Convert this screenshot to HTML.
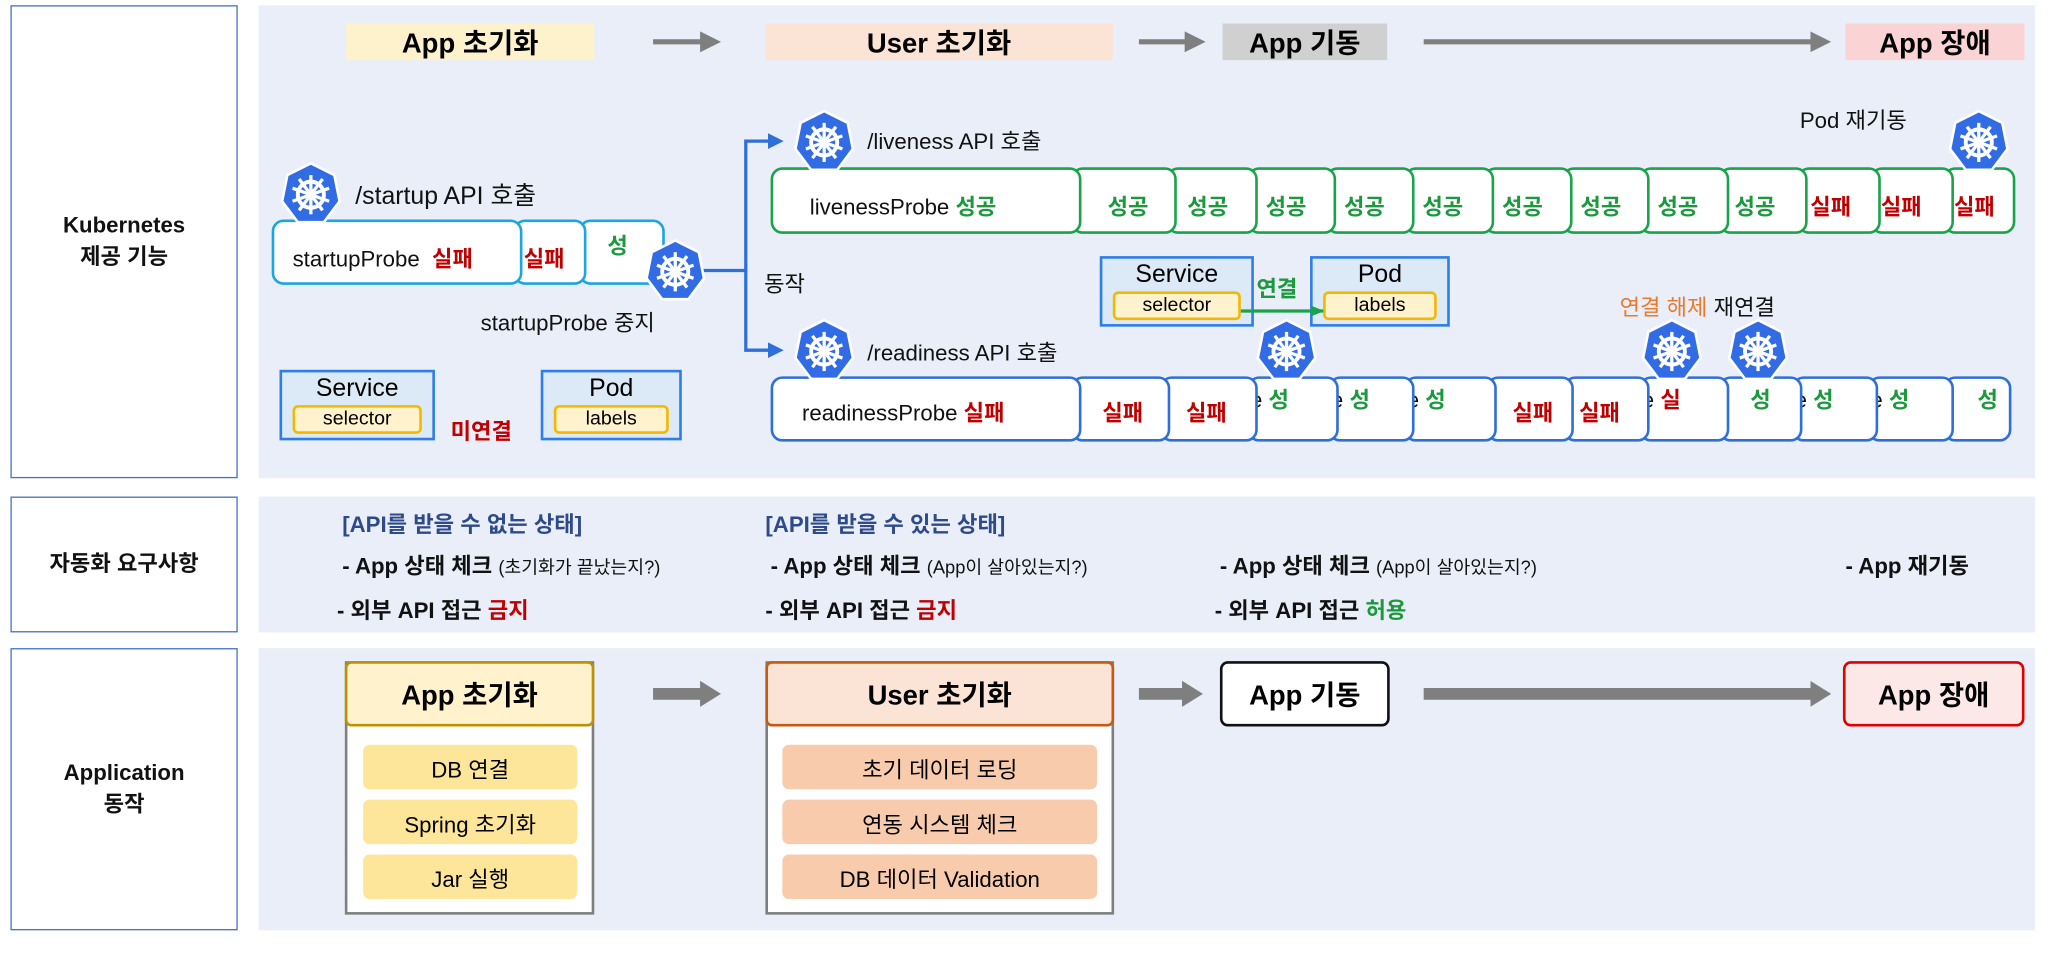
<!DOCTYPE html>
<html><head><meta charset="utf-8"><style>
*{margin:0;padding:0;box-sizing:border-box}
body{width:2048px;height:980px;overflow:hidden;background:#fff;font-family:"Liberation Sans","Noto Sans CJK KR",sans-serif}
#w{position:absolute;left:0;top:0;width:1568px;height:750px;transform:scale(1.30612,1.30667);transform-origin:0 0}
.a{position:absolute}
.lb{position:absolute;background:#fff;border:1.5px solid #4472c4;display:flex;align-items:center;justify-content:center;text-align:center;font-weight:bold;font-size:17px;line-height:24px;color:#111}
.pn{position:absolute;background:#e9eef8;left:198px;width:1360px}
.hd{position:absolute;height:28px;top:18px;font-weight:bold;font-size:21px;display:flex;align-items:center;justify-content:center}
.t{position:absolute;white-space:nowrap;font-size:17px;color:#111}
.seg{position:absolute;background:#fff;border-radius:9px;font-size:17px;font-weight:bold;white-space:nowrap;overflow:hidden}
.g{color:#1a9a3c}.r{color:#c00000}
.sb{position:absolute;background:#dce9f7;border:2px solid #2f7ee8;text-align:center;font-size:19px;padding-top:2px}
.sb i{position:absolute;left:8px;right:8px;bottom:3px;height:22px;background:#fff2cc;border:2px solid #f5b800;border-radius:4px;font-style:normal;font-size:15px;line-height:18px}
.bx{position:absolute;font-weight:bold;font-size:21px;display:flex;align-items:center;justify-content:center}
.it{position:absolute;height:34px;border-radius:5px;font-size:17px;display:flex;align-items:center;justify-content:center}
</style></head><body><div id="w">
<svg width="0" height="0" style="position:absolute"><defs><g id="k8">
<polygon points="24,1 42,10 46,30 34,46 14,46 2,30 6,10" fill="#326ce5" stroke="#fff" stroke-width="2"/>
<circle cx="24" cy="25" r="10" fill="none" stroke="#fff" stroke-width="3"/>
<circle cx="24" cy="25" r="2.5" fill="#fff"/>
<g stroke="#fff" stroke-width="2.5"><line x1="24" y1="10" x2="24" y2="40"/><line x1="10" y1="20" x2="38" y2="30"/><line x1="38" y1="20" x2="10" y2="30"/><line x1="15" y1="37" x2="33" y2="13"/><line x1="33" y1="37" x2="15" y2="13"/></g>
</g></defs></svg>

<div class="lb" style="left:8px;top:4px;width:174px;height:362px">Kubernetes<br>제공 기능</div>
<div class="lb" style="left:8px;top:380px;width:174px;height:104px">자동화 요구사항</div>
<div class="lb" style="left:8px;top:496px;width:174px;height:216px">Application<br>동작</div>
<div class="pn" style="top:4px;height:362px"></div>
<div class="pn" style="top:380px;height:104px"></div>
<div class="pn" style="top:496px;height:216px"></div>

<div class="hd" style="left:265px;width:190px;background:#fdf2cc">App 초기화</div>
<div class="hd" style="left:586px;width:266px;background:#fbe3d6">User 초기화</div>
<div class="hd" style="left:936px;width:126px;background:#d0d0d0">App 기동</div>
<div class="hd" style="left:1413px;width:137px;background:#fad4d4">App 장애</div>
<svg class="a" style="left:0;top:0" width="1568" height="750">
<defs><marker id="ga" markerWidth="4" markerHeight="4" refX="2" refY="2" orient="auto"><path d="M0,0L4,2L0,4z" fill="#7f7f7f"/></marker>
<marker id="gb" markerWidth="16" markerHeight="20" refX="2" refY="10" orient="auto" markerUnits="userSpaceOnUse"><path d="M0,0L16,10L0,20z" fill="#7f7f7f"/></marker>
<marker id="gA" markerWidth="10" markerHeight="8" refX="9" refY="4" orient="auto" markerUnits="userSpaceOnUse"><path d="M0,0L10,4L0,8z" fill="#1aa34a"/></marker></defs>
<g stroke="#7f7f7f" stroke-width="4"><line x1="500" y1="32" x2="544" y2="32" marker-end="url(#ga)"/><line x1="872" y1="32" x2="915" y2="32" marker-end="url(#ga)"/><line x1="1090" y1="32" x2="1394" y2="32" marker-end="url(#ga)"/></g>
<g stroke="#7f7f7f" stroke-width="9"><line x1="500" y1="531" x2="538" y2="531" marker-end="url(#gb)"/><line x1="872" y1="531" x2="907" y2="531" marker-end="url(#gb)"/><line x1="1090" y1="531" x2="1388" y2="531" marker-end="url(#gb)"/></g>
<g stroke="#2f6fd8" stroke-width="2.5" fill="none"><line x1="535" y1="207" x2="571" y2="207"/><polyline points="590,108 571,108 571,268 590,268"/></g>
<path d="M588,102L600,108L588,114z M588,262L600,268L588,274z" fill="#2f6fd8"/>
</svg>

<div class="t" style="left:272px;top:135px;font-size:19px">/startup API 호출</div>
<div class="seg" style="left:443px;top:168px;width:66px;height:50px;border:2.5px solid #1ea5e0;padding:4px 0 0 20px"><span class="g">성</span></div>
<div class="seg" style="left:393px;top:168px;width:56px;height:50px;border:2.5px solid #1ea5e0;padding:14px 0 0 6px"><span class="r">실패</span></div>
<div class="seg" style="left:208px;top:168px;width:192px;height:50px;border:2.5px solid #1ea5e0;padding:14px 0 0 14px;font-weight:normal;color:#111">startupProbe &nbsp;<b class="r">실패</b></div>
<div class="t" style="left:368px;top:233px">startupProbe 중지</div>
<div class="t" style="left:585px;top:203px">동작</div>

<div class="sb" style="left:214px;top:283px;width:119px;height:54px">Service<i>selector</i></div>
<div class="sb" style="left:414px;top:283px;width:108px;height:54px">Pod<i>labels</i></div>
<div class="t r" style="left:345px;top:316px;font-weight:bold">미연결</div>

<div class="t" style="left:664px;top:94px">/liveness API 호출</div>
<div class="t" style="left:1378px;top:78px">Pod 재기동</div>
<div id="lv"></div>
<div class="t" style="left:664px;top:256px">/readiness API 호출</div>
<div id="rd"></div>

<div class="sb" style="left:842px;top:196px;width:118px;height:54px">Service<i>selector</i></div>
<div class="sb" style="left:1003px;top:196px;width:107px;height:54px">Pod<i>labels</i></div>
<div class="t g" style="left:962px;top:207px;font-weight:bold">연결</div>
<svg class="a" style="left:0;top:0" width="1568" height="750"><line x1="950" y1="238" x2="1013" y2="238" stroke="#1aa34a" stroke-width="2.5" marker-end="url(#gA)"/></svg>
<div class="t" style="left:1240px;top:221px"><span style="color:#e97a2c">연결 해제</span> 재연결</div>

<div class="t" style="left:262px;top:387px;color:#2e4a8a;font-weight:bold">[API를 받을 수 없는 상태]</div>
<div class="t" style="left:586px;top:387px;color:#2e4a8a;font-weight:bold">[API를 받을 수 있는 상태]</div>
<div class="t" style="left:262px;top:419px;font-weight:bold">- App 상태 체크 <span style="font-weight:normal;font-size:14px">(초기화가 끝났는지?)</span></div>
<div class="t" style="left:590px;top:419px;font-weight:bold">- App 상태 체크 <span style="font-weight:normal;font-size:14px">(App이 살아있는지?)</span></div>
<div class="t" style="left:934px;top:419px;font-weight:bold">- App 상태 체크 <span style="font-weight:normal;font-size:14px">(App이 살아있는지?)</span></div>
<div class="t" style="left:1413px;top:419px;font-weight:bold">- App 재기동</div>
<div class="t" style="left:258px;top:453px;font-weight:bold">- 외부 API 접근 <span class="r">금지</span></div>
<div class="t" style="left:586px;top:453px;font-weight:bold">- 외부 API 접근 <span class="r">금지</span></div>
<div class="t" style="left:930px;top:453px;font-weight:bold">- 외부 API 접근 <span class="g">허용</span></div>

<div class="a" style="left:264px;top:506px;width:191px;height:194px;border:2px solid #7f7f7f;background:#fff"></div>
<div class="bx" style="left:264px;top:506px;width:191px;height:50px;background:#fff2cc;border:2px solid #bf9000;border-radius:5px">App 초기화</div>
<div class="it" style="left:278px;top:570px;width:164px;background:#fde69a">DB 연결</div>
<div class="it" style="left:278px;top:612px;width:164px;background:#fde69a">Spring 초기화</div>
<div class="it" style="left:278px;top:654px;width:164px;background:#fde69a">Jar 실행</div>
<div class="a" style="left:586px;top:506px;width:267px;height:194px;border:2px solid #7f7f7f;background:#fff"></div>
<div class="bx" style="left:586px;top:506px;width:267px;height:50px;background:#fbe3d6;border:2px solid #c55a11;border-radius:5px">User 초기화</div>
<div class="it" style="left:599px;top:570px;width:241px;background:#f8cbad">초기 데이터 로딩</div>
<div class="it" style="left:599px;top:612px;width:241px;background:#f8cbad">연동 시스템 체크</div>
<div class="it" style="left:599px;top:654px;width:241px;background:#f8cbad">DB 데이터 Validation</div>
<div class="bx" style="left:934px;top:506px;width:130px;height:50px;background:#fff;border:2px solid #111;border-radius:6px">App 기동</div>
<div class="bx" style="left:1411px;top:506px;width:139px;height:50px;background:#fde8e8;border:2px solid #e00000;border-radius:6px">App 장애</div>

<svg class="a" style="left:0;top:0" width="1568" height="750">
<use href="#k8" x="214" y="124"/><use href="#k8" x="493" y="183"/><use href="#k8" x="607" y="84"/><use href="#k8" x="607" y="244"/>
<use href="#k8" x="961" y="244"/><use href="#k8" x="1256" y="244"/><use href="#k8" x="1322" y="244"/><use href="#k8" x="1491" y="84"/>
</svg>
</div>
<script>
function strip(id,top,h,col,b,labels){var el=document.getElementById(id),s='';
for(var i=b.length-2;i>=0;i--){var L=labels[i];var w=b[i+1]-b[i]+(i<b.length-2?8:0);
s+='<div class="seg" style="left:'+b[i]+'px;top:'+top+'px;width:'+w+'px;height:'+h+'px;border:2.5px solid '+col+';padding:'+L[2]+'px 0 0 '+L[1]+'px">'+L[0]+'</div>';}
el.innerHTML=s;}
var G=function(t){return '<span class="g">'+t+'</span>'},R=function(t){return '<span class="r">'+t+'</span>'};
strip('lv',128,51,'#1aa34a',[590,820,893,955,1015,1075,1136,1196,1255,1316,1376,1432,1488,1543],
[['<span style="font-weight:normal;color:#111">livenessProbe</span> '+G('성공'),28,14],[G('성공'),26,14],[G('성공'),14,14],[G('성공'),12,14],[G('성공'),12,14],[G('성공'),12,14],[G('성공'),12,14],[G('성공'),12,14],[G('성공'),12,14],[G('성공'),10,14],[R('실패'),8,14],[R('실패'),6,14],[R('실패'),6,14]]);
var E='<span style="font-weight:normal;color:#111">e</span> ';
strip('rd',288,50,'#2f6fd8',[590,820,888,955,1017,1075,1138,1197,1255,1316,1372,1430,1488,1540],
[['<span style="font-weight:normal;color:#111">readinessProbe</span> '+R('실패'),22,12],[R('실패'),22,12],[R('실패'),18,12],[E+G('성'),0,2],[E+G('성'),0,2],[E+G('성'),0,2],[R('실패'),18,12],[R('실패'),10,12],[E+'<span class="r">실</span>',0,2],[G('성'),22,2],[E+G('성'),0,2],[E+G('성'),0,2],[G('성'),24,2]]);
</script>
</body></html>
